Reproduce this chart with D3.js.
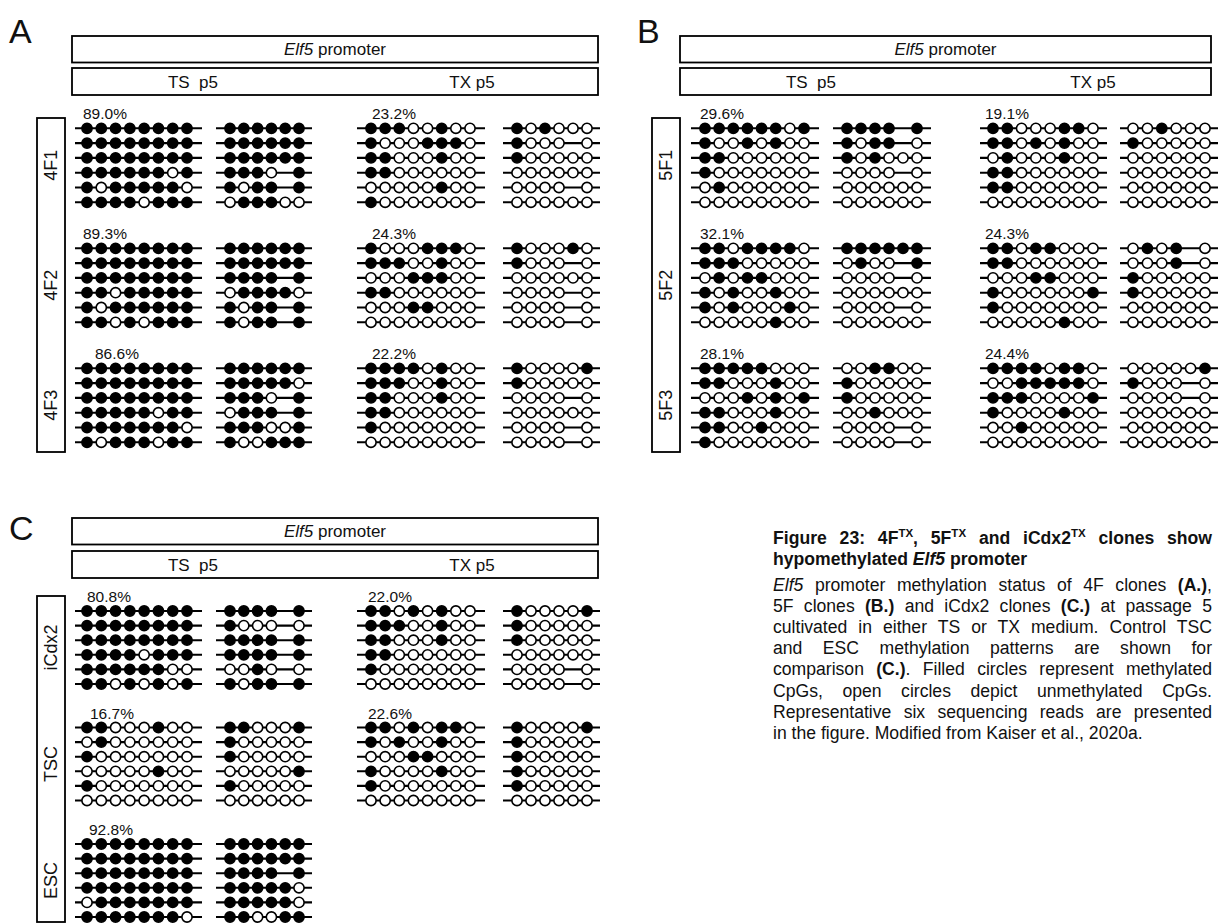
<!DOCTYPE html>
<html><head><meta charset="utf-8">
<script src="https://cdn.jsdelivr.net/npm/d3@7"></script>
<style>
body{margin:0;background:#fff}
svg{display:block}
text{font-family:"Liberation Sans",Arial,Helvetica,sans-serif;fill:#111}
</style>
</head><body>
<svg id="fig" width="1220" height="924"></svg>
<script>
// ---------------- DATA ----------------
// '1' = methylated CpG (filled), '0' = unmethylated (open), '-' = no data
const headerTitle = "Elf5";
const conditions = ["TS  p5", "TX p5"];

// Panel A: 4F clones
const aClones = ["4F1", "4F2", "4F3"];
const aTsPct = ["89.0%", "89.3%", "86.6%"];
const aTxPct = ["23.2%", "24.3%", "22.2%"];
const aTsLeft = [
  ["11111111","11111111","11111111","11111101","10111110","11110111"],
  ["11111111","11111111","11111111","11011111","10111111","11010111"],
  ["11111111","11111111","11111111","11111011","11111110","10111011"]];
const aTsRight = [
  ["111111","111111","111111","1110-1","1011-1","011100"],
  ["111111","111111","1111-1","011110","1011-1","1011-1"],
  ["111111","111110","1110-1","0111-1","111001","100111"]];
const aTxLeft = [
  ["11100100","10001110","11000100","11000000","00000100","10000000"],
  ["10001110","11100100","00011100","11000000","00011000","00000000"],
  ["11110100","11100100","11000100","11000000","10000000","00000000"]];
const aTxRight = [
  ["101000","1000-0","100000","000000","0000-0","000000"],
  ["100010","1000-0","000000","0000-0","0000-0","0000-0"],
  ["100001","100000","0000-0","000000","0000-0","0000-0"]];

// Panel B: 5F clones
const bClones = ["5F1", "5F2", "5F3"];
const bTsPct = ["29.6%", "32.1%", "28.1%"];
const bTxPct = ["19.1%", "24.3%", "24.4%"];
const bTsLeft = [
  ["11111101","10010100","11000000","10000000","01000000","00000000"],
  ["11011110","11100000","01011000","10100100","10100010","00000100"],
  ["11111000","11000100","00010101","11000100","11001000","10000000"]];
const bTsRight = [
  ["1111-1","1011-0","101000","0000-0","000000","000000"],
  ["111111","0100-1","0000-0","000000","0000-0","000000"],
  ["001100","100000","100000","001000","0000-0","0000-0"]];
const bTxLeft = [
  ["11000110","11010100","01000100","11000000","11000000","00000000"],
  ["11011000","11000000","00011000","10000001","10000000","00000100"],
  ["11110110","00111110","11100001","10000100","00100000","00000000"]];
const bTxRight = [
  ["001000","100000","000000","000000","000000","000000"],
  ["0101-0","0001-0","100000","100000","000000","000000"],
  ["000001","1000-0","0000-0","000000","000000","000000"]];

// Panel C: iCdx2 clones, TSC and ESC controls
const cClones = ["iCdx2", "TSC", "ESC"];
const cTsPct = ["80.8%", "16.7%", "92.8%"];
const cTxPct = ["22.0%", "22.6%"];
const cTsLeft = [
  ["11111111","11111111","11111111","11110111","11111100","11010101"],
  ["11000100","01000000","10000000","00000100","10000000","00000000"],
  ["11111111","11111111","11111111","11111111","01111111","11111110"]];
const cTsRight = [
  ["1111-1","1000-0","1111-1","1111-1","0010-0","1011-1"],
  ["110001","100000","100000","000001","100000","000000"],
  ["111111","111111","1111-1","111110","111110","110011"]];
const cTxLeft = [
  ["11010100","11100100","11000100","11000000","10000000","00000000"],
  ["11010110","10100100","00011000","10000100","10000000","00000000"]];
const cTxRight = [
  ["100001","100000","100000","000000","0000-0","0000-0"],
  ["100001","100000","100000","100000","100000","000000"]];

// ---------------- LAYOUT ----------------
const svg = d3.select("#fig");

const panels = [
  { letter:"A", lx:9, ly:43, lab:[37,65], head:[72,598], headY:36, subY:68,
    tsL:[87,187,75,202], tsR:[230,299,216,312], txL:[371,470,357,485], txR:[517,587,503,600],
    row0:128.3, pitch:120, step:14.8, boxTop:118, boxBot:452,
    tsPx:[83,83,95], txPx:[372,372,372], tsC:193, txC:472,
    clones:aClones, tsPct:aTsPct, txPct:aTxPct, tsLeft:aTsLeft, tsRight:aTsRight, txLeft:aTxLeft, txRight:aTxRight },
  { letter:"B", lx:637, ly:43, lab:[652,680], head:[680,1211], headY:36, subY:68,
    tsL:[705,804,691,819], tsR:[847,917,833,931], txL:[993,1093,980,1107], txR:[1133,1205,1120,1218],
    row0:128.3, pitch:120, step:14.8, boxTop:118, boxBot:452,
    tsPx:[700,700,700], txPx:[985,985,985], tsC:811, txC:1093,
    clones:bClones, tsPct:bTsPct, txPct:bTxPct, tsLeft:bTsLeft, tsRight:bTsRight, txLeft:bTxLeft, txRight:bTxRight },
  { letter:"C", lx:9, ly:540, lab:[37,65], head:[72,598], headY:518, subY:551,
    tsL:[87,187,75,202], tsR:[230,299,216,312], txL:[371,470,357,485], txR:[517,587,503,600],
    row0:611, pitch:116.5, step:14.6, boxTop:596, boxBot:922,
    tsPx:[87,90,89], txPx:[368,368], tsC:193, txC:472,
    clones:cClones, tsPct:cTsPct, txPct:cTxPct, tsLeft:cTsLeft, tsRight:cTsRight, txLeft:cTxLeft, txRight:cTxRight }
];

const R = 5.1;

function drawGroup(g, reads, seg, yScale) {
  const n = reads[0].length;
  const x = d3.scalePoint().domain(d3.range(n)).range([seg[0], seg[1]]);
  reads.forEach((read, i) => {
    const y = yScale(i);
    g.append("line").attr("x1", seg[2]).attr("x2", seg[3]).attr("y1", y).attr("y2", y)
      .attr("stroke", "#000").attr("stroke-width", 2.1);
    const cells = read.split("").map((v, j) => ({v, j})).filter(d => d.v !== "-");
    g.selectAll(null).data(cells).enter().append("circle")
      .attr("cx", d => x(d.j)).attr("cy", y).attr("r", R)
      .attr("fill", d => d.v === "1" ? "#000" : "#fff")
      .attr("stroke", "#000").attr("stroke-width", 1.6);
  });
}

panels.forEach(p => {
  const g = svg.append("g");
  g.append("text").attr("x", p.lx).attr("y", p.ly).attr("font-size", 34).text(p.letter);
  g.append("rect").attr("x", p.head[0]).attr("y", p.headY).attr("width", p.head[1]-p.head[0]).attr("height", 26.5)
    .attr("fill", "none").attr("stroke", "#000").attr("stroke-width", 1.8);
  const ht = g.append("text").attr("x", (p.head[0]+p.head[1])/2).attr("y", p.headY + 19)
    .attr("text-anchor", "middle").attr("font-size", 17);
  ht.append("tspan").attr("font-style", "italic").text(headerTitle);
  ht.append("tspan").text(" promoter");
  g.append("rect").attr("x", p.head[0]).attr("y", p.subY).attr("width", p.head[1]-p.head[0]).attr("height", 27)
    .attr("fill", "none").attr("stroke", "#000").attr("stroke-width", 1.8);
  g.append("text").attr("x", p.tsC).attr("y", p.subY + 19.5).attr("text-anchor", "middle")
    .attr("font-size", 17).attr("xml:space", "preserve").style("white-space", "pre").text(conditions[0]);
  g.append("text").attr("x", p.txC).attr("y", p.subY + 19.5).attr("text-anchor", "middle")
    .attr("font-size", 17).text(conditions[1]);
  g.append("rect").attr("x", p.lab[0]).attr("y", p.boxTop).attr("width", p.lab[1]-p.lab[0]).attr("height", p.boxBot-p.boxTop)
    .attr("fill", "none").attr("stroke", "#000").attr("stroke-width", 1.8);

  p.clones.forEach((name, k) => {
    const top = p.row0 + k * p.pitch;
    const yScale = d3.scaleLinear().domain([0, 5]).range([top, top + 5 * p.step]);
    const mid = top + 2.5 * p.step;
    g.append("text").attr("transform", `translate(${(p.lab[0]+p.lab[1])/2 + 6},${mid}) rotate(-90)`)
      .attr("text-anchor", "middle").attr("font-size", 18).text(name);
    g.append("text").attr("x", p.tsPx[k]).attr("y", top - 9).attr("font-size", 15.5).text(p.tsPct[k]);
    drawGroup(g, p.tsLeft[k], p.tsL, yScale);
    drawGroup(g, p.tsRight[k], p.tsR, yScale);
    if (k < p.txPct.length) {
      g.append("text").attr("x", p.txPx[k]).attr("y", top - 9).attr("font-size", 15.5).text(p.txPct[k]);
      drawGroup(g, p.txLeft[k], p.txL, yScale);
      drawGroup(g, p.txRight[k], p.txR, yScale);
    }
  });
});

// ---------------- CAPTION ----------------
const captionLines = [
  {j:true, segs:[["Figure 23: 4F","b"],["TX","bs"],[", 5F","b"],["TX","bs"],[" and iCdx2","b"],["TX","bs"],[" clones show","b"]]},
  {j:false, segs:[["hypomethylated ","b"],["Elf5","bi"],[" promoter","b"]]},
  {j:true, segs:[["Elf5","i"],[" promoter methylation status of 4F clones ",""],["(A.)","b"],[",",""]]},
  {j:true, segs:[["5F clones ",""],["(B.)","b"],[" and iCdx2 clones ",""],["(C.)","b"],[" at passage 5",""]]},
  {j:true, segs:[["cultivated in either TS or TX medium. Control TSC",""]]},
  {j:true, segs:[["and ESC methylation patterns are shown for",""]]},
  {j:true, segs:[["comparison ",""],["(C.)","b"],[". Filled circles represent methylated",""]]},
  {j:true, segs:[["CpGs, open circles depict unmethylated CpGs.",""]]},
  {j:true, segs:[["Representative six sequencing reads are presented",""]]},
  {j:false, segs:[["in the figure. Modified from Kaiser et al., 2020a.",""]]}
];
const capX = 773, capW = 1212 - 773;
const capY = [544, 565, 591, 612, 633, 654, 675, 696.5, 717.5, 739];
captionLines.forEach((line, i) => {
  const t = svg.append("text").attr("x", capX).attr("y", capY[i]).attr("font-size", 17.6)
    .attr("xml:space", "preserve").style("white-space", "pre");
  let raised = false;
  line.segs.forEach(([s, st]) => {
    const ts = t.append("tspan").text(s);
    if (st.includes("b")) ts.attr("font-weight", "bold");
    if (st.includes("i")) ts.attr("font-style", "italic");
    if (st.includes("s")) { ts.attr("font-size", 11.5).attr("dy", -7); raised = true; }
    else if (raised) { ts.attr("dy", 7); raised = false; }
  });
  const len = t.node().getComputedTextLength();
  const spaces = (t.text().match(/ /g) || []).length;
  if (spaces > 0 && (line.j || len > capW)) t.style("word-spacing", ((capW - len) / spaces) + "px");
});
</script>
</body></html>
